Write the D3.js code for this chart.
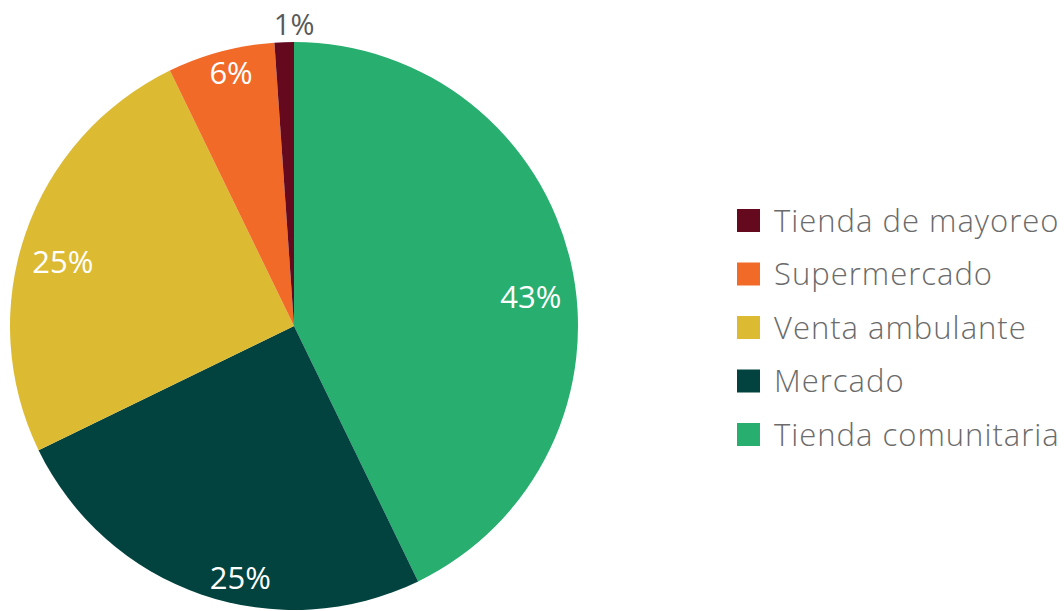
<!DOCTYPE html>
<html>
<head>
<meta charset="utf-8">
<script src="https://cdn.jsdelivr.net/npm/d3@7"></script>
<style>
  body { margin: 0; background: #fff; }
  svg { display: block; font-family: "Open Sans", "Noto Sans", sans-serif; }
</style>
</head>
<body>
<div id="chart"></div>
<script>
// pie data, clockwise from 12 o'clock
var categories = ["Tienda comunitaria", "Mercado", "Venta ambulante", "Supermercado", "Tienda de mayoreo"];
var values = [42.8, 25.0, 25.0, 6.1, 1.1];
var labels = ["43%", "25%", "25%", "6%", "1%"];
var colors = ["#28ae6f", "#02433f", "#dcbb33", "#f26a28", "#650a1e"];

// legend order (top to bottom)
var legendOrder = ["Tienda de mayoreo", "Supermercado", "Venta ambulante", "Mercado", "Tienda comunitaria"];

var width = 1064;
var height = 611;
var cx = 294;
var cy = 326;
var radius = 284;

// label nudges (degrees, fraction of radius), the original labels sit off the mid angle
var labelShift = [6, -7, -3.5, 1, 2];
var labelDist = [0.84, 0.905, 0.845, 0.92, 1.06];

var svg = d3.select("#chart")
  .append("svg")
  .attr("width", width)
  .attr("height", height);

var color = d3.scaleOrdinal().domain(categories).range(colors);

var data = categories.map(function(c, i) {
  return { name: c, value: values[i], label: labels[i], i: i };
});

var pie = d3.pie()
  .sort(null)
  .value(function(d) { return d.value; });

var arcs = pie(data);

var arc = d3.arc().innerRadius(0).outerRadius(radius);

var g = svg.append("g")
  .attr("transform", "translate(" + cx + "," + cy + ")");

g.selectAll("path.slice")
  .data(arcs)
  .enter()
  .append("path")
  .attr("class", "slice")
  .attr("d", arc)
  .attr("fill", function(d) { return color(d.data.name); });

g.selectAll("text.pct")
  .data(arcs)
  .enter()
  .append("text")
  .attr("class", "pct")
  .attr("transform", function(d) {
    var i = d.data.i;
    var a = (d.startAngle + d.endAngle) / 2 + labelShift[i] * Math.PI / 180;
    var r = radius * labelDist[i];
    return "translate(" + (r * Math.sin(a)) + "," + (-r * Math.cos(a)) + ")";
  })
  .attr("text-anchor", "middle")
  .attr("dy", "0.36em")
  .attr("font-size", function(d) { return d.data.value < 3 ? 29 : 31; })
  .attr("font-weight", 500)
  .attr("fill", function(d) { return d.data.value < 3 ? "#595959" : "#ffffff"; })
  .text(function(d) { return d.data.label; });

// legend
var legend = svg.append("g")
  .attr("transform", "translate(737,209)");

var item = legend.selectAll("g.item")
  .data(legendOrder)
  .enter()
  .append("g")
  .attr("class", "item")
  .attr("transform", function(d, i) { return "translate(0," + (i * 53.5) + ")"; });

item.append("rect")
  .attr("width", 23)
  .attr("height", 23)
  .attr("fill", function(d) { return color(d); });

item.append("text")
  .attr("x", 37)
  .attr("y", 11.5)
  .attr("dy", "0.36em")
  .attr("font-size", 31)
  .attr("font-weight", 300)
  .attr("letter-spacing", 1)
  .attr("fill", "#6b6b6b")
  .text(function(d) { return d; });
</script>
</body>
</html>
